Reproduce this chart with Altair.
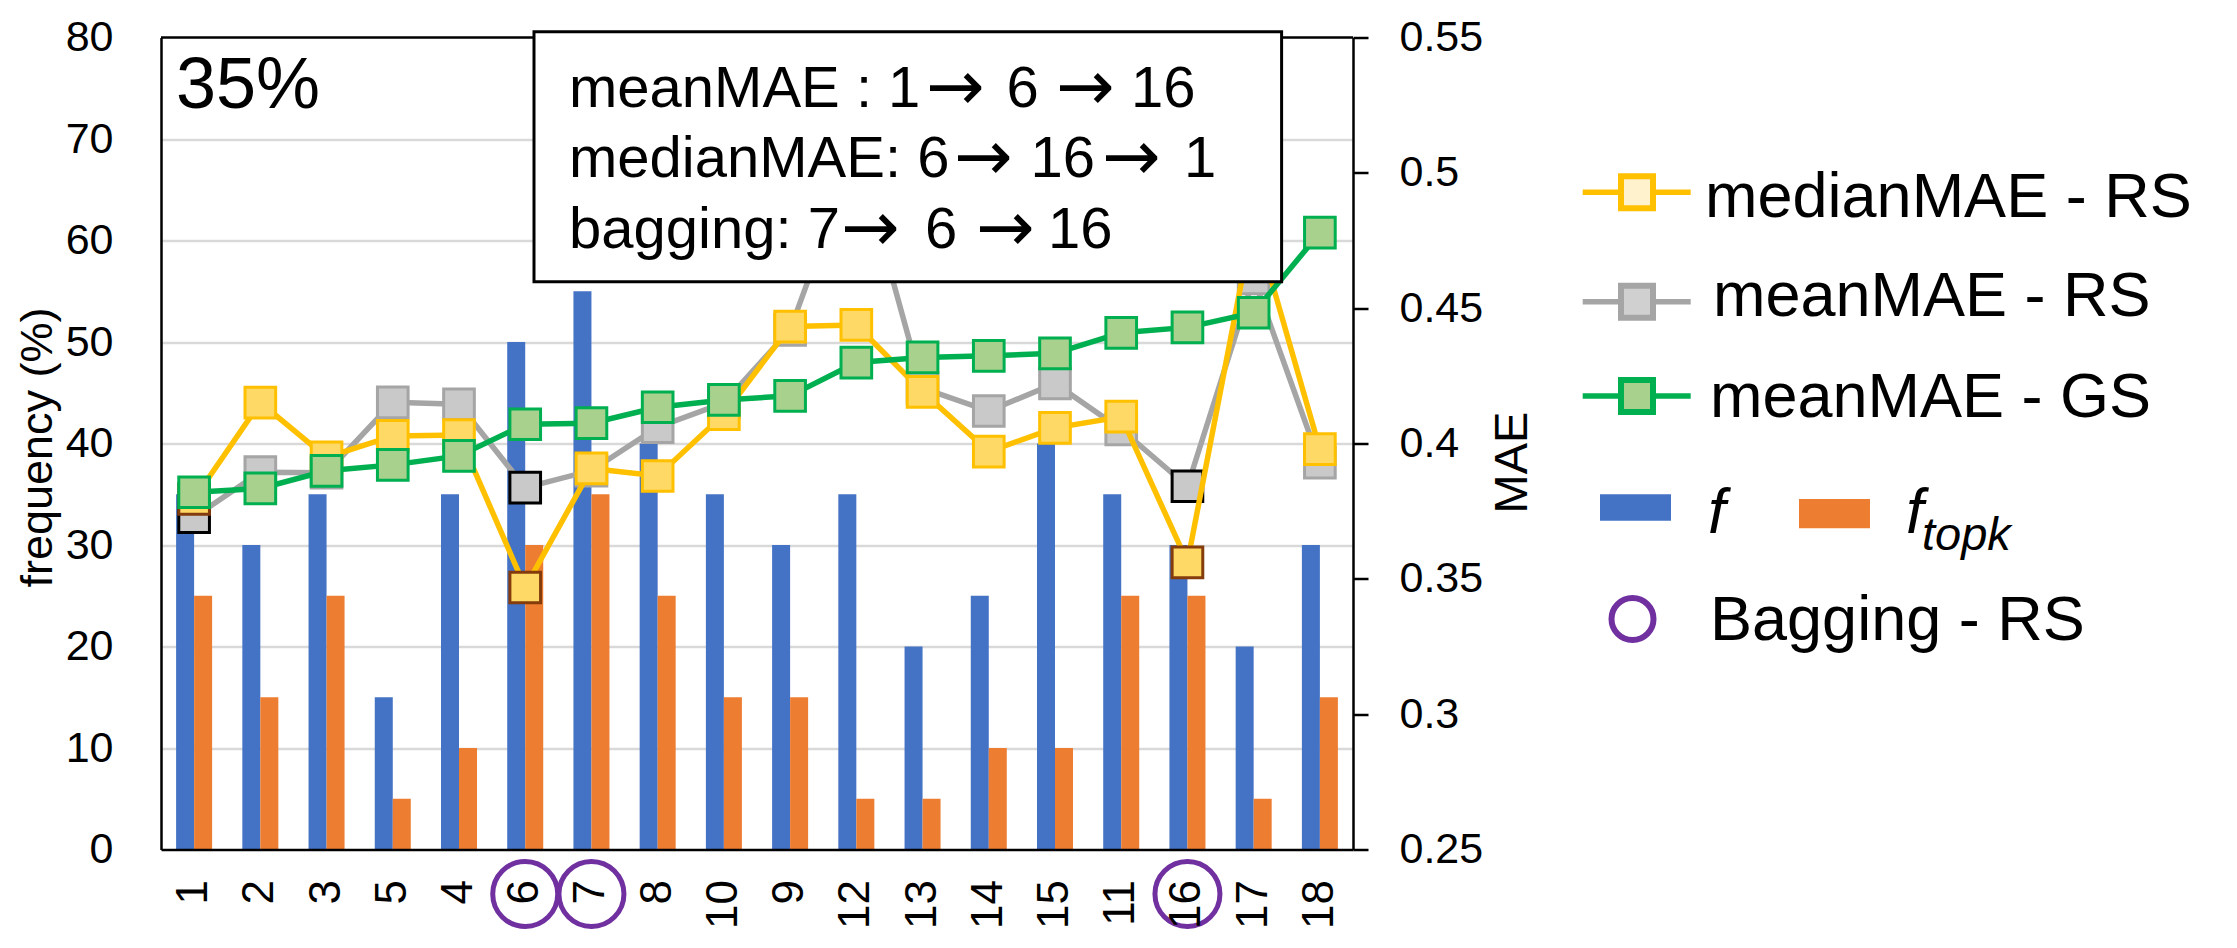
import altair as alt
import pandas as pd

FONT = "Liberation Sans"
ARROW_FONT = "DejaVu Sans"

# ---------------- data ----------------
cats = ["1", "2", "3", "5", "4", "6", "7", "8", "10", "9", "12", "13", "14", "15", "11", "16", "17", "18"]
f_vals = [35, 30, 35, 15, 35, 50, 55, 40, 35, 30, 35, 20, 25, 40, 35, 30, 20, 30]
ftopk_vals = [25, 15, 25, 5, 10, 30, 35, 25, 15, 15, 5, 5, 10, 10, 25, 25, 5, 15]
median_rs = [0.3795, 0.4151, 0.3949, 0.4028, 0.4031, 0.3468, 0.3908, 0.3880, 0.4108, 0.4432,
             0.4438, 0.4191, 0.3970, 0.4058, 0.4099, 0.3561, 0.4830, 0.3979]
mean_rs = [0.3728, 0.3894, 0.3892, 0.4152, 0.4145, 0.3837, 0.3900, 0.4060, 0.4150, 0.4420,
           0.5090, 0.4205, 0.4120, 0.4222, 0.4052, 0.3842, 0.4610, 0.3929]
mean_gs = [0.3820, 0.3834, 0.3899, 0.3921, 0.3954, 0.4071, 0.4075, 0.4134, 0.4161, 0.4176,
           0.4299, 0.4318, 0.4324, 0.4333, 0.4409, 0.4429, 0.4483, 0.4779]
best_mean = ["1", "6", "16"]
best_median = ["6", "16", "1"]
best_bagging = ["7", "6", "16"]
ARROW = "\u2192"
box_lines = ["meanMAE : 1\u2192 6 \u2192 16", "medianMAE: 6\u2192 16 \u2192 1", "bagging: 7\u2192 6 \u2192 16"]
corner_label = "35%"
freq_ticks = [0, 10, 20, 30, 40, 50, 60, 70, 80]
mae_ticks = [0.25, 0.3, 0.35, 0.4, 0.45, 0.5, 0.55]
legend_labels = ["medianMAE - RS", "meanMAE - RS", "meanMAE - GS", "f", "f", "topk", "Bagging - RS"]

# ---------------- layout / style ----------------
W, H = 1192, 812
BLUE, ORANGE = "#4472C4", "#ED7D31"
YEL_L, YEL_F = "#FFC000", "#FFD966"
GRY_L, GRY_F = "#A5A5A5", "#C9C9C9"
GRN_L, GRN_F = "#00B050", "#A9D18E"
PURPLE = "#7030A0"

bars_df = pd.DataFrame({
    "cat": cats * 2,
    "series": ["f"] * len(cats) + ["ftopk"] * len(cats),
    "freq": f_vals + ftopk_vals,
})


def mae_df(values, best):
    return pd.DataFrame({
        "cat": cats,
        "idx": list(range(len(cats))),
        "mae": values,
        "best": [1 if c in best else 0 for c in cats],
    })


one = pd.DataFrame({"k": [0]})
bag_df = pd.DataFrame({"cat": best_bagging})

x_enc = alt.X(
    "cat:N",
    scale=alt.Scale(domain=cats, paddingInner=0, paddingOuter=0),
    axis=alt.Axis(title=None, labelAngle=270, labelFontSize=44, labelPadding=30,
                  labelColor="black", labelFont=FONT, ticks=False, tickSize=0,
                  domain=True, domainColor="black", domainWidth=2.5, grid=False, zindex=1),
)

y_freq = alt.Y(
    "freq:Q",
    scale=alt.Scale(domain=[0, 80], nice=False),
    axis=alt.Axis(orient="left", values=freq_ticks, title="frequency (%)",
                  titleFontSize=45, titleFontWeight="normal", titleColor="black", titleFont=FONT,
                  titleAngle=270, titleX=-124, titleY=409.5, titleAlign="center",
                  titleBaseline="middle",
                  labelFontSize=43, labelPadding=48, labelColor="black", labelFont=FONT,
                  ticks=False, tickSize=0, domain=True, domainColor="black", domainWidth=2.5,
                  grid=True, gridWidth=2.5,
                  gridColor={"condition": {"test": "datum.value == 0 || datum.value == 80",
                                           "value": "transparent"},
                             "value": "#D9D9D9"}),
)

y_mae = alt.Y(
    "mae:Q",
    scale=alt.Scale(domain=[0.25, 0.55], nice=False, zero=False),
    axis=alt.Axis(orient="right", values=mae_ticks, format=".2~f", title="MAE",
                  titleFontSize=47, titleFontWeight="normal", titleColor="black", titleFont=FONT,
                  titleAngle=270, titleX=159, titleY=424.5, titleAlign="center",
                  titleBaseline="middle",
                  labelFontSize=43, labelPadding=31, labelColor="black", labelFont=FONT,
                  ticks=True, tickSize=15, tickWidth=2.5, tickColor="black",
                  domain=True, domainColor="black", domainWidth=2.5, grid=False),
)

bars = alt.Chart(bars_df).mark_bar().encode(
    x=x_enc,
    xOffset=alt.XOffset("series:N", scale=alt.Scale(domain=["f", "ftopk"], paddingInner=0, paddingOuter=0.839)),
    y=y_freq,
    color=alt.Color("series:N", scale=alt.Scale(domain=["f", "ftopk"], range=[BLUE, ORANGE]), legend=None),
)


def series(values, best, line_color, fill_color, best_color):
    base = alt.Chart(mae_df(values, best))
    line = base.mark_line(color=line_color, strokeWidth=5.5).encode(x=x_enc, y=y_mae, order="idx:Q")
    pts = base.mark_point(shape="square", filled=True, size=940, opacity=1,
                          fill=fill_color, strokeWidth=3).encode(
        x=x_enc, y=y_mae,
        stroke=alt.condition("datum.best == 1", alt.value(best_color), alt.value(line_color)),
    )
    return [line, pts]


mae_layer = alt.layer(
    *series(mean_rs, best_mean, GRY_L, GRY_F, "#000000"),
    *series(median_rs, best_median, YEL_L, YEL_F, "#843C0C"),
    *series(mean_gs, [], GRN_L, GRN_F, GRN_L),
)

top_rule = alt.Chart(one).mark_rule(color="black", strokeWidth=2.5).encode(
    x=alt.value(0), x2=alt.value(W), y=alt.value(0))

box = alt.Chart(one).mark_rect(fill="white", stroke="black", strokeWidth=3).encode(
    x=alt.value(373), x2=alt.value(1120.6), y=alt.value(-5.8), y2=alt.value(244.2))

# text box: each line split at the arrows; pieces and arrows placed along the line
box_baselines = [69.2, 139.5, 210.8]
box_piece_x = [
    [408, 765, 845.5, 895, 970],
    [408, 793, 869.5, 941, 1023],
    [408, 680, 764, 815, 887],
]
box_texts = []
for line, yb, xs in zip(box_lines, box_baselines, box_piece_x):
    parts = [p.strip() for p in line.split(ARROW)]
    pieces = [parts[0], ARROW, parts[1], ARROW, parts[2]]
    for piece, xp in zip(pieces, xs):
        is_arrow = piece == ARROW
        box_texts.append(
            alt.Chart(one).mark_text(align="left", baseline="alphabetic",
                                     fontSize=70 if is_arrow else 58,
                                     font=ARROW_FONT if is_arrow else FONT, color="black").encode(
                x=alt.value(xp), y=alt.value(yb + 3 if is_arrow else yb), text=alt.value(piece))
        )

corner = alt.Chart(one).mark_text(align="left", baseline="alphabetic", fontSize=72, font=FONT, color="black").encode(
    x=alt.value(15), y=alt.value(70.5), text=alt.value(corner_label))

circles = alt.Chart(bag_df).mark_point(shape="circle", filled=False, stroke=PURPLE, strokeWidth=5,
                                       size=4225, opacity=1).encode(x=x_enc, y=alt.value(856.5))

# ---------------- legend ----------------
legend = []
rows = [(154.8, 179.2, 1544, YEL_L, "#FFF2CC", legend_labels[0]),
        (264.2, 278.5, 1552, GRY_L, "#D0D0D0", legend_labels[1]),
        (358.5, 379.2, 1549, GRN_L, GRN_F, legend_labels[2])]
for ly, tb, tx, lc, fc, lab in rows:
    legend.append(alt.Chart(one).mark_rule(color=lc, strokeWidth=5.5).encode(
        x=alt.value(1421.7), x2=alt.value(1529.7), y=alt.value(ly)))
    legend.append(alt.Chart(one).mark_point(shape="square", filled=True, size=1024, opacity=1,
                                            fill=fc, stroke=lc, strokeWidth=6).encode(
        x=alt.value(1476), y=alt.value(ly)))
    legend.append(alt.Chart(one).mark_text(align="left", baseline="alphabetic", fontSize=63,
                                           font=FONT, color="black").encode(
        x=alt.value(tx), y=alt.value(tb), text=alt.value(lab)))

legend.append(alt.Chart(one).mark_rect(color=BLUE).encode(
    x=alt.value(1439), x2=alt.value(1510), y=alt.value(456.8), y2=alt.value(483.2)))
legend.append(alt.Chart(one).mark_rect(color=ORANGE).encode(
    x=alt.value(1638), x2=alt.value(1709), y=alt.value(461.5), y2=alt.value(490.8)))
legend.append(alt.Chart(one).mark_text(align="left", baseline="alphabetic", fontSize=63, fontStyle="italic",
                                       font=FONT, color="black").encode(
    x=alt.value(1547), y=alt.value(495.5), text=alt.value(legend_labels[3])))
legend.append(alt.Chart(one).mark_text(align="left", baseline="alphabetic", fontSize=63, fontStyle="italic",
                                       font=FONT, color="black").encode(
    x=alt.value(1745), y=alt.value(495.5), text=alt.value(legend_labels[4])))
legend.append(alt.Chart(one).mark_text(align="left", baseline="alphabetic", fontSize=47, fontStyle="italic",
                                       font=FONT, color="black").encode(
    x=alt.value(1761), y=alt.value(512.5), text=alt.value(legend_labels[5])))
legend.append(alt.Chart(one).mark_point(shape="circle", filled=False, stroke=PURPLE, strokeWidth=6,
                                        size=1764, opacity=1).encode(
    x=alt.value(1471.5), y=alt.value(581.5)))
legend.append(alt.Chart(one).mark_text(align="left", baseline="alphabetic", fontSize=63,
                                       font=FONT, color="black").encode(
    x=alt.value(1549), y=alt.value(602.5), text=alt.value(legend_labels[6])))

chart = alt.layer(
    bars, mae_layer, top_rule, box, *box_texts, corner, circles, *legend
).resolve_scale(
    y="independent"
).properties(
    width=W, height=H,
    autosize=alt.AutoSizeParams(type="none"),
    padding={"left": 153, "top": 29.5, "right": 860, "bottom": 85},
).configure_view(
    stroke="transparent"
).configure(
    font=FONT
)

chart.save("out.html", embed_options={"renderer": "svg", "actions": False})
